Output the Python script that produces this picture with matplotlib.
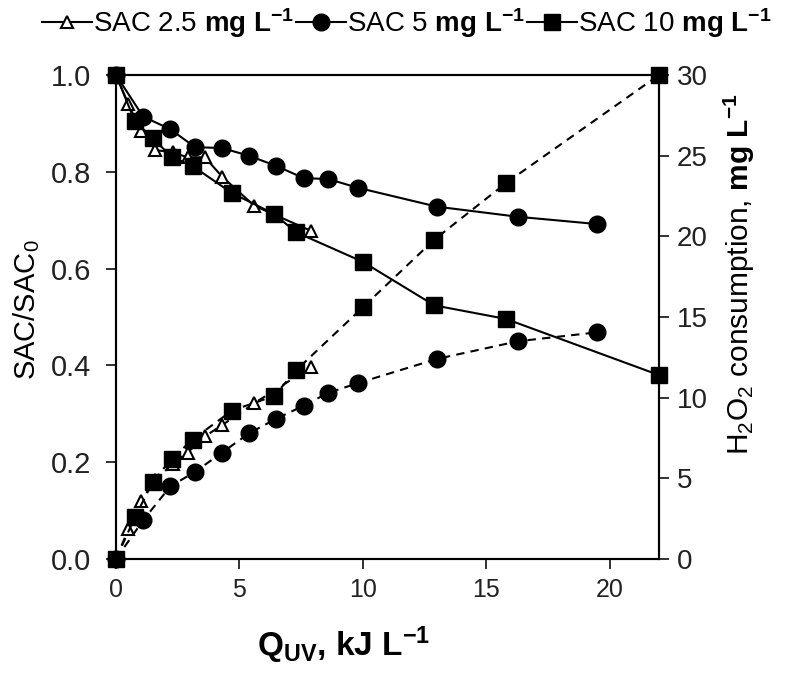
import matplotlib
matplotlib.use('Agg')
import matplotlib.pyplot as plt
from matplotlib import rcParams
from matplotlib.lines import Line2D

rcParams['font.family'] = ['Liberation Sans', 'DejaVu Sans']
rcParams['mathtext.fontset'] = 'custom'
rcParams['mathtext.rm'] = 'Liberation Sans'
rcParams['mathtext.it'] = 'Liberation Sans:italic'
rcParams['mathtext.bf'] = 'Liberation Sans:bold'
rcParams['xtick.direction'] = 'out'
rcParams['ytick.direction'] = 'out'

# SAC 2.5 mg/L (triangles)
q_25 = [0, 0.5, 1.0, 1.6, 2.3, 2.9, 3.6, 4.3, 5.6, 7.9]
sac_25 = [1.0, 0.94, 0.885, 0.845, 0.84, 0.83, 0.83, 0.79, 0.73, 0.678]
h2o2_25 = [0, 1.85, 3.6, 4.9, 5.9, 6.6, 7.6, 8.3, 9.65, 11.9]

# SAC 5 mg/L (circles)
q_5 = [0, 1.1, 2.2, 3.2, 4.3, 5.4, 6.5, 7.6, 8.6, 9.8, 13.0, 16.3, 19.5]
sac_5 = [1.0, 0.914, 0.888, 0.851, 0.849, 0.833, 0.812, 0.787, 0.785, 0.767,
         0.728, 0.707, 0.692]
h2o2_5 = [0, 2.4, 4.5, 5.4, 6.6, 7.8, 8.7, 9.5, 10.3, 10.9, 12.4, 13.5, 14.05]

# SAC 10 mg/L (squares)
q_10 = [0, 0.77, 1.5, 2.25, 3.1, 4.7, 6.4, 7.3, 10.0, 12.9, 15.8, 22.0]
sac_10 = [1.0, 0.904, 0.869, 0.831, 0.812, 0.756, 0.713, 0.675, 0.614,
          0.524, 0.496, 0.380]
h2o2_10 = [0, 2.6, 4.8, 6.2, 7.4, 9.2, 10.1, 11.7, 15.6, 19.8, 23.3, 30.0]

labels = [r'SAC 2.5 $\mathbf{mg\ L^{-1}}$',
          r'SAC 5 $\mathbf{mg\ L^{-1}}$',
          r'SAC 10 $\mathbf{mg\ L^{-1}}$']

lw = 1.5
dash = (0, (4, 3))

fig = plt.figure(figsize=(7.87, 6.75), dpi=100)
ax = fig.add_axes([116/787, 1-559/675, 543/787, 484/675])
ax2 = ax.twinx()

tri = dict(marker='^', ms=9, mfc='white', mec='black', mew=1.5, color='black', lw=lw)
cir = dict(marker='o', ms=12, mfc='black', mec='black', color='black', lw=lw)
sq = dict(marker='s', ms=12, mfc='black', mec='black', color='black', lw=lw)

ax.plot(q_25, sac_25, clip_on=False, zorder=3, **tri)
ax.plot(q_5, sac_5, clip_on=False, zorder=4, **cir)
ax.plot(q_10, sac_10, clip_on=False, zorder=5, **sq)

ax2.plot(q_25, h2o2_25, ls=dash, clip_on=False, zorder=3, **tri)
ax2.plot(q_5, h2o2_5, ls=dash, clip_on=False, zorder=4, **cir)
ax2.plot(q_10, h2o2_10, ls=dash, clip_on=False, zorder=5, **sq)

ax.set_xlim(0, 22)
ax.set_ylim(0, 1.0)
ax2.set_ylim(0, 30)
ax.set_xticks([0, 5, 10, 15, 20])
ax.set_yticks([0, 0.2, 0.4, 0.6, 0.8, 1.0])
ax.set_yticklabels(['0.0', '0.2', '0.4', '0.6', '0.8', '1.0'])
ax2.set_yticks([0, 5, 10, 15, 20, 25, 30])

for a in (ax, ax2):
    for s in a.spines.values():
        s.set_linewidth(lw)
    a.tick_params(labelsize=20, width=1.3, length=7, pad=6, colors='#222222')
ax.tick_params(axis='y', labelsize=21, pad=11)
ax.tick_params(axis='x', labelsize=18, pad=7)

ax.set_ylabel(r'SAC/SAC$_0$', fontsize=21)
ax.yaxis.set_label_coords(-0.136, 0.515)
ax2.set_ylabel(r'H$_2$O$_2$ consumption, $\mathbf{mg\ L^{-1}}$', fontsize=21.5)
ax2.yaxis.set_label_coords(1.115, 0.589)
ax.set_xlabel(r'Q$_{\mathbf{UV}}$, kJ L$^{\mathbf{-1}}$', fontsize=24,
              fontweight='bold')
ax.xaxis.set_label_coords(0.42, -0.135)

handles = [Line2D([], [], **tri), Line2D([], [], **cir), Line2D([], [], **sq)]
fig.legend(handles, labels, loc='upper center', bbox_to_anchor=(0.517, 1.02),
           ncol=3, frameon=False, fontsize=20, handlelength=1.8,
           handletextpad=0.05, columnspacing=0.05, borderpad=0.2)

fig.savefig('out.png', dpi=100)
